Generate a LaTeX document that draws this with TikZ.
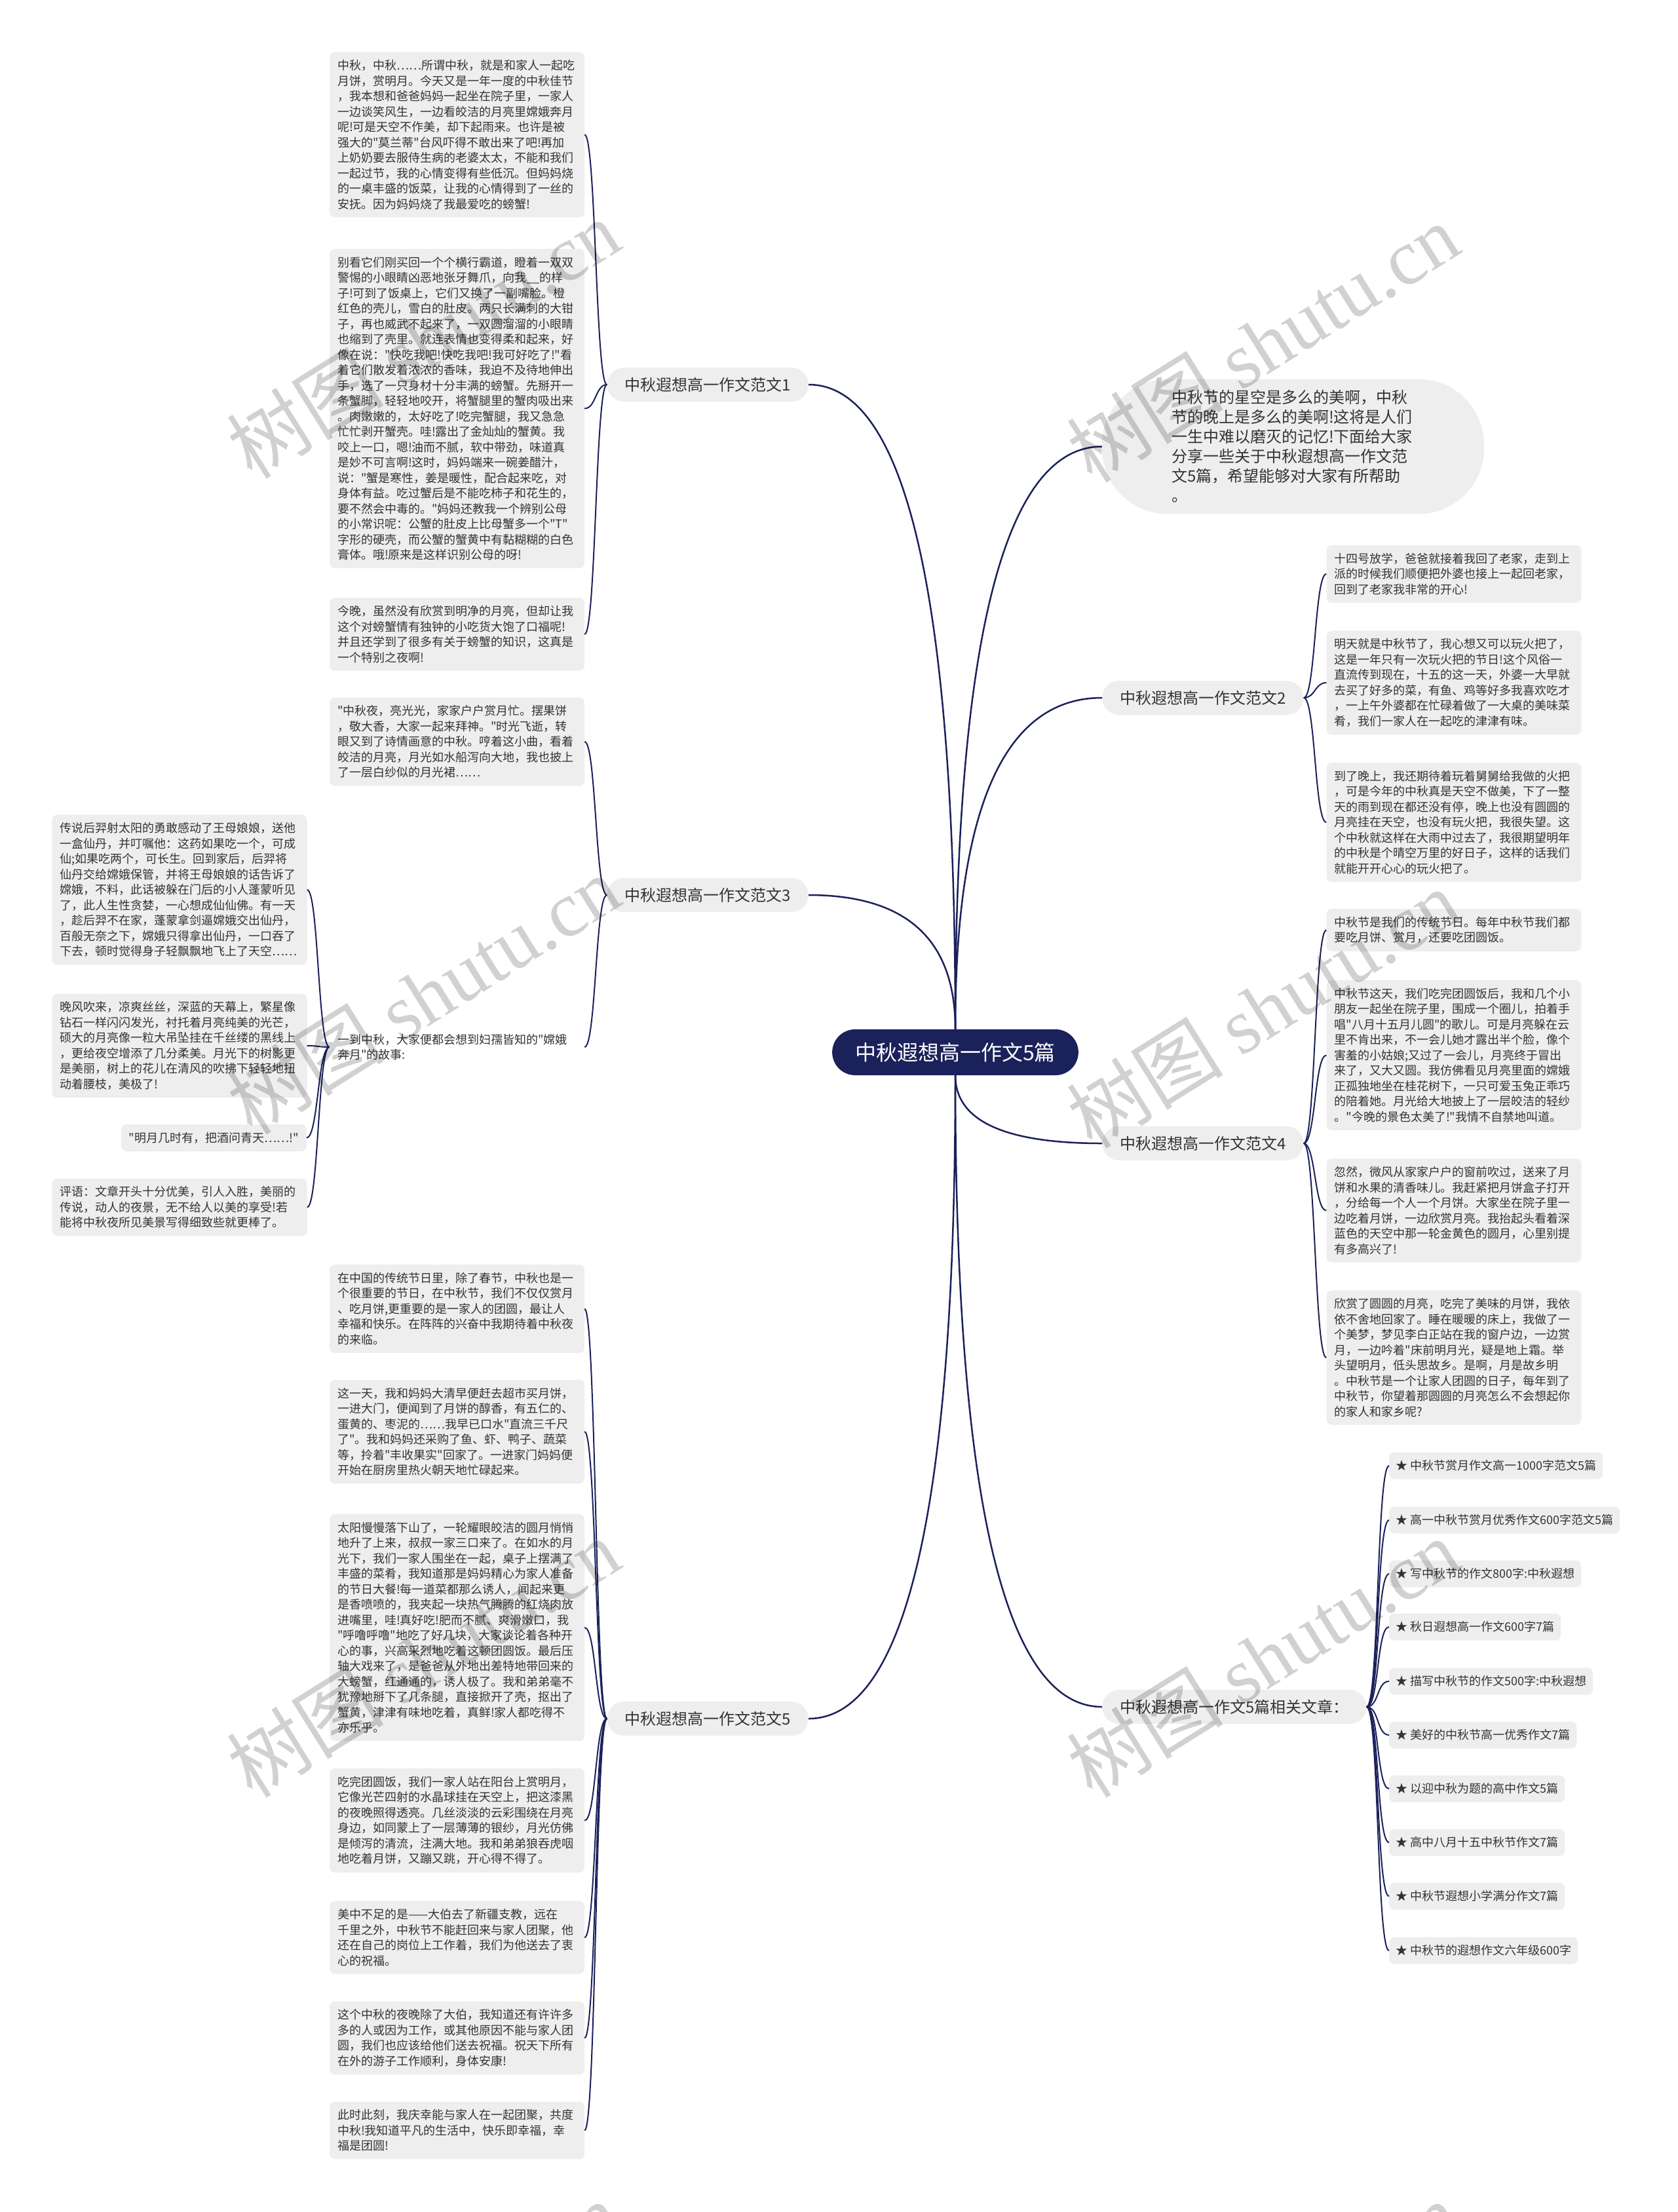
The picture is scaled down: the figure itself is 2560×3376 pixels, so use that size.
\documentclass[tikz,border=0pt]{standalone}
\usepackage{fontspec}
\setmainfont{Noto Sans CJK SC}
\newfontfamily\cjk{Noto Sans CJK SC}
\newfontfamily\wmserif{Liberation Serif}
\definecolor{mynavy}{RGB}{27,33,90}
\definecolor{boxgray}{RGB}{238,238,238}
\definecolor{txt}{RGB}{51,51,51}
\begin{document}
\begin{tikzpicture}[x=1pt,y=-1pt,
  leaf/.style={fill=boxgray,rounded corners=8pt,inner xsep=12pt,inner ysep=12pt,text width=365pt,align=left,text=txt,font=\cjk\fontsize{18pt}{23.5pt}\selectfont},
  leafplain/.style={leaf,fill=none},
  leafnw/.style={fill=boxgray,rounded corners=8pt,inner xsep=12pt,inner ysep=12pt,text=txt,font=\cjk\fontsize{18pt}{23.5pt}\selectfont},
  branch/.style={fill=boxgray,rounded corners=26pt,inner xsep=27pt,inner ysep=0pt,minimum height=52pt,text=txt,font=\cjk\fontsize{24pt}{28pt}\selectfont},
  centernode/.style={fill=mynavy,text=white,rounded corners=35pt,inner xsep=35pt,inner ysep=0pt,minimum height=70pt,font=\cjk\fontsize{32pt}{36pt}\selectfont},
  introbox/.style={fill=boxgray,rounded corners=100pt,inner xsep=106pt,inner ysep=17pt,text width=371pt,align=left,text=txt,font=\cjk\fontsize{24pt}{30pt}\selectfont},
  relitem/.style={fill=boxgray,rounded corners=8pt,inner xsep=10pt,inner ysep=0pt,minimum height=41pt,anchor=west,text=txt,font=\cjk\fontsize{18pt}{22pt}\selectfont},
  mainline/.style={draw=mynavy,line width=2.5pt},
  subline/.style={draw=mynavy,line width=2pt},
  wm/.style={rotate=32,text=black,text opacity=0.18,inner sep=0pt,font=\cjk\fontsize{120pt}{120pt}\selectfont}
]
\useasboundingbox (0,0) rectangle (2560,3376);
\fill[white] (0,0) rectangle (2560,3376);
\clip (0,0) rectangle (2560,3376);

% centre
\node[centernode] (c) at (1458,1606) {中秋遐想高一作文5篇};

% branch labels
\node[branch,anchor=east] (b1) at (1234,587) {中秋遐想高一作文范文1};
\node[branch,anchor=east] (b3) at (1234,1366) {中秋遐想高一作文范文3};
\node[branch,anchor=east] (b5) at (1234,2623) {中秋遐想高一作文范文5};
\node[branch,anchor=west] (b2) at (1682,1065) {中秋遐想高一作文范文2};
\node[branch,anchor=west] (b4) at (1682,1745) {中秋遐想高一作文范文4};
\node[branch,anchor=west] (b6) at (1682,2605) {中秋遐想高一作文5篇相关文章：};

% intro
\node[introbox] (intro) at (1973.5,681.5) {中秋节的星空是多么的美啊，中秋\\节的晚上是多么的美啊!这将是人们\\一生中难以磨灭的记忆!下面给大家\\分享一些关于中秋遐想高一作文范\\文5篇，希望能够对大家有所帮助\\。};

% branch 1
\node[leaf] (l1a) at (697.5,205.5) {中秋，中秋……所谓中秋，就是和家人一起吃\\月饼，赏明月。今天又是一年一度的中秋佳节\\，我本想和爸爸妈妈一起坐在院子里，一家人\\一边谈笑风生，一边看皎洁的月亮里嫦娥奔月\\呢!可是天空不作美，却下起雨来。也许是被\\强大的"莫兰蒂"台风吓得不敢出来了吧!再加\\上奶奶要去服侍生病的老婆太太，不能和我们\\一起过节，我的心情变得有些低沉。但妈妈烧\\的一桌丰盛的饭菜，让我的心情得到了一丝的\\安抚。因为妈妈烧了我最爱吃的螃蟹!};
\node[leaf] (l1b) at (697.5,623.5) {别看它们刚买回一个个横行霸道，瞪着一双双\\警惕的小眼睛凶恶地张牙舞爪，向我\_\_的样\\子!可到了饭桌上，它们又换了一副嘴脸。橙\\红色的壳儿，雪白的肚皮。两只长满刺的大钳\\子，再也威武不起来了，一双圆溜溜的小眼睛\\也缩到了壳里。就连表情也变得柔和起来，好\\像在说："快吃我吧!快吃我吧!我可好吃了!"看\\着它们散发着浓浓的香味，我迫不及待地伸出\\手，选了一只身材十分丰满的螃蟹。先掰开一\\条蟹脚，轻轻地咬开，将蟹腿里的蟹肉吸出来\\。肉嫩嫩的，太好吃了!吃完蟹腿，我又急急\\忙忙剥开蟹壳。哇!露出了金灿灿的蟹黄。我\\咬上一口，嗯!油而不腻，软中带劲，味道真\\是妙不可言啊!这时，妈妈端来一碗姜醋汁，\\说："蟹是寒性，姜是暖性，配合起来吃，对\\身体有益。吃过蟹后是不能吃柿子和花生的，\\要不然会中毒的。"妈妈还教我一个辨别公母\\的小常识呢：公蟹的肚皮上比母蟹多一个"T"\\字形的硬壳，而公蟹的蟹黄中有黏糊糊的白色\\膏体。哦!原来是这样识别公母的呀!};
\node[leaf] (l1c) at (697.5,968) {今晚，虽然没有欣赏到明净的月亮，但却让我\\这个对螃蟹情有独钟的小吃货大饱了口福呢!\\并且还学到了很多有关于螃蟹的知识，这真是\\一个特别之夜啊!};

% branch 3
\node[leaf] (l3a) at (697.5,1132) {"中秋夜，亮光光，家家户户赏月忙。摆果饼\\，敬大香，大家一起来拜神。"时光飞逝，转\\眼又到了诗情画意的中秋。哼着这小曲，看着\\皎洁的月亮，月光如水船泻向大地，我也披上\\了一层白纱似的月光裙……};
\node[leafplain] (l3b) at (697.5,1598) {一到中秋，大家便都会想到妇孺皆知的"嫦娥\\奔月"的故事:};
\node[leaf] (l3c) at (274,1358) {传说后羿射太阳的勇敢感动了王母娘娘，送他\\一盒仙丹，并叮嘱他：这药如果吃一个，可成\\仙;如果吃两个，可长生。回到家后，后羿将\\仙丹交给嫦娥保管，并将王母娘娘的话告诉了\\嫦娥，不料，此话被躲在门后的小人蓬蒙听见\\了，此人生性贪婪，一心想成仙仙佛。有一天\\，趁后羿不在家，蓬蒙拿剑逼嫦娥交出仙丹，\\百般无奈之下，嫦娥只得拿出仙丹，一口吞了\\下去，顿时觉得身子轻飘飘地飞上了天空……};
\node[leaf] (l3d) at (274,1596) {晚风吹来，凉爽丝丝，深蓝的天幕上，繁星像\\钻石一样闪闪发光，衬托着月亮纯美的光芒，\\硕大的月亮像一粒大吊坠挂在千丝缕的黑线上\\，更给夜空增添了几分柔美。月光下的树影更\\是美丽，树上的花儿在清风的吹拂下轻轻地扭\\动着腰枝，美极了!};
\node[leafnw,anchor=east] (l3e) at (468,1736.5) {"明月几时有，把酒问青天……!"};
\node[leaf] (l3f) at (274,1842.5) {评语：文章开头十分优美，引人入胜，美丽的\\传说，动人的夜景，无不给人以美的享受!若\\能将中秋夜所见美景写得细致些就更棒了。};

% branch 5
\node[leaf] (l5a) at (697.5,1997.5) {在中国的传统节日里，除了春节，中秋也是一\\个很重要的节日，在中秋节，我们不仅仅赏月\\、吃月饼,更重要的是一家人的团圆，最让人\\幸福和快乐。在阵阵的兴奋中我期待着中秋夜\\的来临。};
\node[leaf] (l5b) at (697.5,2185) {这一天，我和妈妈大清早便赶去超市买月饼，\\一进大门，便闻到了月饼的醇香，有五仁的、\\蛋黄的、枣泥的……我早已口水"直流三千尺\\了"。我和妈妈还采购了鱼、虾、鸭子、蔬菜\\等，拎着"丰收果实"回家了。一进家门妈妈便\\开始在厨房里热火朝天地忙碌起来。};
\node[leaf] (l5c) at (697.5,2484) {太阳慢慢落下山了，一轮耀眼皎洁的圆月悄悄\\地升了上来，叔叔一家三口来了。在如水的月\\光下，我们一家人围坐在一起，桌子上摆满了\\丰盛的菜肴，我知道那是妈妈精心为家人准备\\的节日大餐!每一道菜都那么诱人，闻起来更\\是香喷喷的，我夹起一块热气腾腾的红烧肉放\\进嘴里，哇!真好吃!肥而不腻、爽滑嫩口，我\\"呼噜呼噜"地吃了好几块，大家谈论着各种开\\心的事，兴高采烈地吃着这顿团圆饭。最后压\\轴大戏来了，是爸爸从外地出差特地带回来的\\大螃蟹，红通通的，诱人极了。我和弟弟毫不\\犹豫地掰下了几条腿，直接掀开了壳，抠出了\\蟹黄，津津有味地吃着，真鲜!家人都吃得不\\亦乐乎。};
\node[leaf] (l5d) at (697.5,2778.5) {吃完团圆饭，我们一家人站在阳台上赏明月，\\它像光芒四射的水晶球挂在天空上，把这漆黑\\的夜晚照得透亮。几丝淡淡的云彩围绕在月亮\\身边，如同蒙上了一层薄薄的银纱，月光仿佛\\是倾泻的清流，注满大地。我和弟弟狼吞虎咽\\地吃着月饼，又蹦又跳，开心得不得了。};
\node[leaf] (l5e) at (697.5,2957) {美中不足的是——大伯去了新疆支教，远在\\千里之外，中秋节不能赶回来与家人团聚，他\\还在自己的岗位上工作着，我们为他送去了衷\\心的祝福。};
\node[leaf] (l5f) at (697.5,3110.5) {这个中秋的夜晚除了大伯，我知道还有许许多\\多的人或因为工作，或其他原因不能与家人团\\圆，我们也应该给他们送去祝福。祝天下所有\\在外的游子工作顺利，身体安康!};
\node[leaf] (l5g) at (697.5,3251.5) {此时此刻，我庆幸能与家人在一起团聚，共度\\中秋!我知道平凡的生活中，快乐即幸福，幸\\福是团圆!};

% branch 2
\node[leaf] (r2a) at (2219,876) {十四号放学，爸爸就接着我回了老家，走到上\\派的时候我们顺便把外婆也接上一起回老家，\\回到了老家我非常的开心!};
\node[leaf] (r2b) at (2219,1042) {明天就是中秋节了，我心想又可以玩火把了，\\这是一年只有一次玩火把的节日!这个风俗一\\直流传到现在，十五的这一天，外婆一大早就\\去买了好多的菜，有鱼、鸡等好多我喜欢吃才\\，一上午外婆都在忙碌着做了一大桌的美味菜\\肴，我们一家人在一起吃的津津有味。};
\node[leaf] (r2c) at (2219,1255) {到了晚上，我还期待着玩着舅舅给我做的火把\\，可是今年的中秋真是天空不做美，下了一整\\天的雨到现在都还没有停，晚上也没有圆圆的\\月亮挂在天空，也没有玩火把，我很失望。这\\个中秋就这样在大雨中过去了，我很期望明年\\的中秋是个晴空万里的好日子，这样的话我们\\就能开开心心的玩火把了。};

% branch 4
\node[leaf] (r4a) at (2219,1419.5) {中秋节是我们的传统节日。每年中秋节我们都\\要吃月饼、赏月，还要吃团圆饭。};
\node[leaf] (r4b) at (2219,1610.5) {中秋节这天，我们吃完团圆饭后，我和几个小\\朋友一起坐在院子里，围成一个圈儿，拍着手\\唱"八月十五月儿圆"的歌儿。可是月亮躲在云\\里不肯出来，不一会儿她才露出半个脸，像个\\害羞的小姑娘;又过了一会儿，月亮终于冒出\\来了，又大又圆。我仿佛看见月亮里面的嫦娥\\正孤独地坐在桂花树下，一只可爱玉兔正乖巧\\的陪着她。月光给大地披上了一层皎洁的轻纱\\。"今晚的景色太美了!"我情不自禁地叫道。};
\node[leaf] (r4c) at (2219,1847.5) {忽然，微风从家家户户的窗前吹过，送来了月\\饼和水果的清香味儿。我赶紧把月饼盒子打开\\，分给每一个人一个月饼。大家坐在院子里一\\边吃着月饼，一边欣赏月亮。我抬起头看着深\\蓝色的天空中那一轮金黄色的圆月，心里别提\\有多高兴了!};
\node[leaf] (r4d) at (2219,2072) {欣赏了圆圆的月亮，吃完了美味的月饼，我依\\依不舍地回家了。睡在暖暖的床上，我做了一\\个美梦，梦见李白正站在我的窗户边，一边赏\\月，一边吟着"床前明月光，疑是地上霜。举\\头望明月，低头思故乡。是啊，月是故乡明\\。中秋节是一个让家人团圆的日子，每年到了\\中秋节，你望着那圆圆的月亮怎么不会想起你\\的家人和家乡呢?};

% related articles
\node[relitem] (ri1) at (2120,2237) {★ 中秋节赏月作文高一1000字范文5篇};
\node[relitem] (ri2) at (2120,2320) {★ 高一中秋节赏月优秀作文600字范文5篇};
\node[relitem] (ri3) at (2120,2402) {★ 写中秋节的作文800字:中秋遐想};
\node[relitem] (ri4) at (2120,2483) {★ 秋日遐想高一作文600字7篇};
\node[relitem] (ri5) at (2120,2566) {★ 描写中秋节的作文500字:中秋遐想};
\node[relitem] (ri6) at (2120,2648) {★ 美好的中秋节高一优秀作文7篇};
\node[relitem] (ri7) at (2120,2730) {★ 以迎中秋为题的高中作文5篇};
\node[relitem] (ri8) at (2120,2812) {★ 高中八月十五中秋节作文7篇};
\node[relitem] (ri9) at (2120,2894) {★ 中秋节遐想小学满分作文7篇};
\node[relitem] (ri10) at (2120,2977) {★ 中秋节的遐想作文六年级600字};

% main connectors
\draw[mainline] (b1.east) .. controls +(168,0) and +(0,-571) .. (c.north);
\draw[mainline] (b3.east) .. controls +(168,0) and +(0,-119) .. (c.north);
\draw[mainline] (b5.east) .. controls +(168,0) and +(0,570) .. (c.south);
\draw[mainline] (intro.west) .. controls +(-168,0) and +(0,-514) .. (c.north);
\draw[mainline] (b2.west) .. controls +(-168,0) and +(0,-293) .. (c.north);
\draw[mainline] (b4.west) .. controls +(-168,0) and +(0,60) .. (c.south);
\draw[mainline] (b6.west) .. controls +(-168,0) and +(0,559) .. (c.south);

% sub connectors
\foreach \n in {l1a,l1b,l1c}
  \draw[subline] (b1.west) .. controls +(-17.5,0) and +(17.5,0) .. (\n.east);
\foreach \n in {l3a,l3b}
  \draw[subline] (b3.west) .. controls +(-17.5,0) and +(17.5,0) .. (\n.east);
\foreach \n in {l3c,l3d,l3e,l3f}
  \draw[subline] (l3b.west) .. controls +(-17.5,0) and +(17.5,0) .. (\n.east);
\foreach \n in {l5a,l5b,l5c,l5d,l5e,l5f,l5g}
  \draw[subline] (b5.west) .. controls +(-17.5,0) and +(17.5,0) .. (\n.east);
\foreach \n in {r2a,r2b,r2c}
  \draw[subline] (b2.east) .. controls +(18,0) and +(-18,0) .. (\n.west);
\foreach \n in {r4a,r4b,r4c,r4d}
  \draw[subline] (b4.east) .. controls +(18,0) and +(-18,0) .. (\n.west);
\foreach \n in {ri1,ri2,ri3,ri4,ri5,ri6,ri7,ri8,ri9,ri10}
  \draw[subline] (b6.east) .. controls +(19,0) and +(-19,0) .. (\n.west);

% watermarks
\node[wm] (w1) at (646,517) {树图 {\wmserif shutu.cn}};
\node[wm] (w2) at (1927,523) {树图 {\wmserif shutu.cn}};
\node[wm] (w3) at (646,1518) {树图 {\wmserif shutu.cn}};
\node[wm] (w4) at (1927,1539) {树图 {\wmserif shutu.cn}};
\node[wm] (w5) at (646,2530) {树图 {\wmserif shutu.cn}};
\node[wm] (w6) at (1927,2530) {树图 {\wmserif shutu.cn}};
\node[wm] (w7) at (646,3542) {树图 {\wmserif shutu.cn}};
\node[wm] (w8) at (1927,3542) {树图 {\wmserif shutu.cn}};
\end{tikzpicture}
\end{document}
